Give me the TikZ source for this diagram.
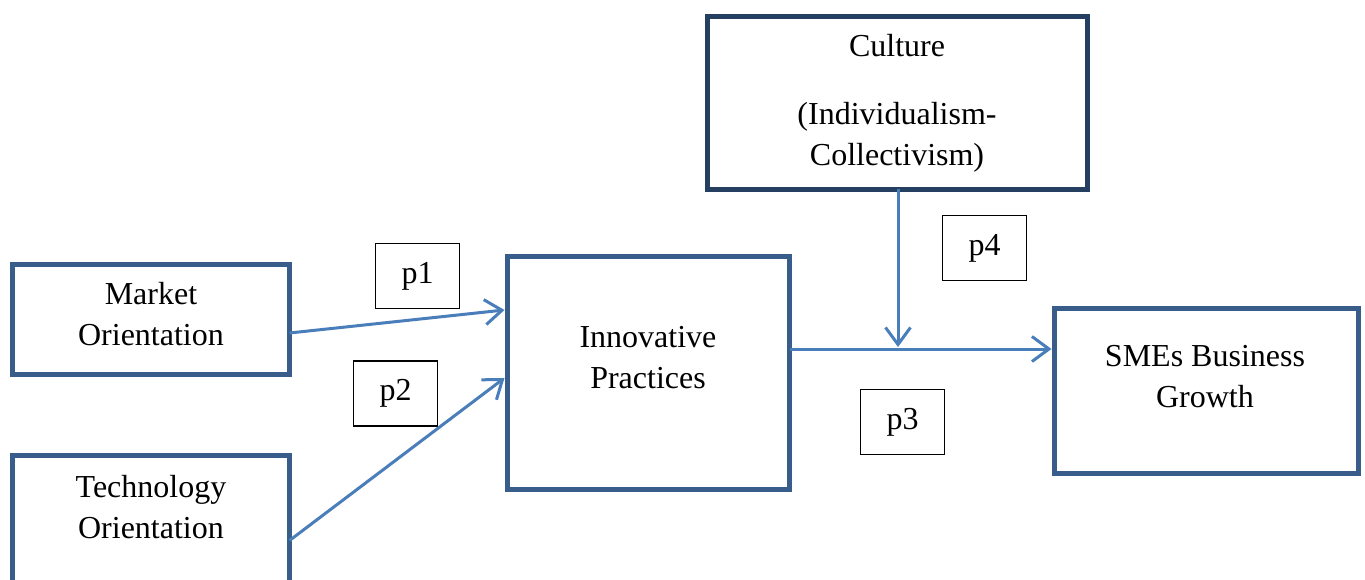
\documentclass[tikz,border=0pt]{standalone}
\usepackage{fontspec}
\setmainfont{Liberation Serif}
\usetikzlibrary{arrows.meta,calc}
\definecolor{boxblue}{RGB}{56,93,138}
\definecolor{navy}{RGB}{36,63,96}
\definecolor{arrowblue}{RGB}{74,126,187}
\begin{document}
\begin{tikzpicture}[x=1pt,y=-1pt,
  mainbox/.style={draw=boxblue,line width=5pt,rectangle,inner sep=0pt,outer sep=0pt},
  pbox/.style={draw=black,line width=1.3pt,rectangle,minimum width=84pt,minimum height=65pt,inner sep=0pt,font=\fontsize{32}{38}\selectfont},
  lbl/.style={align=center,inner sep=0pt,font=\fontsize{32}{41}\selectfont},
  conn/.style={draw=arrowblue,line width=3pt,-{Straight Barb[length=17pt,width=25pt]}}]
\useasboundingbox (0,0) rectangle (1365,580);
\clip (0,0) rectangle (1365,580);
\fill[white] (0,0) rectangle (1365,580);
% main boxes
\node[mainbox,minimum width=277pt,minimum height=110pt] (mo) at (151,319.5) {};
\node[mainbox,minimum width=277pt,minimum height=170pt] (to) at (151,540.5) {};
\node[mainbox,minimum width=282pt,minimum height=233pt] (ip) at (648.5,373) {};
\node[mainbox,draw=navy,minimum width=380pt,minimum height=173pt] (cu) at (897.5,103) {};
\node[mainbox,minimum width=304pt,minimum height=165pt] (sg) at (1206.5,391) {};
% labels
\node[lbl] (mot) at (151,314) {Market\\Orientation};
\node[lbl] (tot) at (151,507) {Technology\\Orientation};
\node[lbl] (ipt) at (648,358) {Innovative\\Practices};
\node[lbl] (cut1) at (897,46) {Culture};
\node[lbl] (cut2) at (897,137) {(Individualism-\\Collectivism)};
\node[lbl] (sgt) at (1205,377) {SMEs Business\\Growth};
% p boxes
\node[pbox] (p1) at (417.5,276) {p1};
\node[pbox] (p2) at (395.5,393.5) {p2};
\node[pbox] (p3) at (902.5,422) {p3};
\node[pbox] (p4) at (984.5,248) {p4};
% connectors
\coordinate (join) at (898,347);
\draw[conn] ($(mo.east)+(0,13.5)$) -- ($(ip.west)+(-3,-63)$);
\draw[conn] ($(to.east)+(0,0)$) -- ($(ip.west)+(-3,5)$);
\draw[conn] ($(ip.east)+(0,-24)$) -- ($(sg.west)+(-3,-42)$);
\draw[conn] (cu.south -| join) -- (join);
\end{tikzpicture}
\end{document}
